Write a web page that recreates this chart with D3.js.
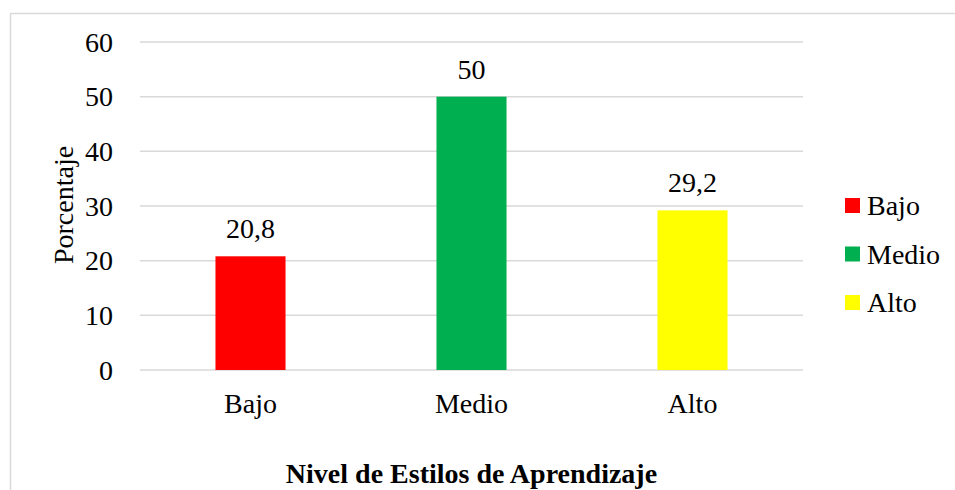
<!DOCTYPE html>
<html lang="es">
<head>
  <meta charset="UTF-8">
  <title>Nivel de Estilos de Aprendizaje</title>
  <script src="https://d3js.org/d3.v7.min.js"></script>
</head>
<body style="margin:0;background:#fff">
<script>
  // data
  const categories = ['Bajo', 'Medio', 'Alto'];
  const values = [20.8, 50, 29.2];
  const valueLabels = ['20,8', '50', '29,2'];
  const colors = ['#FF0000', '#00B050', '#FFFF00'];
  const yTicks = [0, 10, 20, 30, 40, 50, 60];

  const width = 955, height = 490;
  const plot = { left: 140, right: 803, top: 42, bottom: 370 };
  const serif = "'Liberation Serif'";
  const fs = '28px';

  const svg = d3.select('body').append('svg')
    .attr('width', width)
    .attr('height', height)
    .style('font-family', serif);

  // chart frame
  svg.append('rect')
    .attr('x', 10.5).attr('y', 13.5)
    .attr('width', 960).attr('height', 500)
    .attr('fill', 'none')
    .attr('stroke', '#d9d9d9')
    .attr('stroke-width', 1.5);

  const x = d3.scaleBand()
    .domain(categories)
    .range([plot.left, plot.right])
    .paddingInner(0.683)
    .paddingOuter(0.3415);

  const y = d3.scaleLinear()
    .domain([0, 60])
    .range([plot.bottom, plot.top]);

  // gridlines
  svg.append('g')
    .selectAll('line')
    .data(yTicks)
    .enter().append('line')
    .attr('x1', plot.left)
    .attr('x2', plot.right)
    .attr('y1', d => y(d))
    .attr('y2', d => y(d))
    .attr('stroke', '#d9d9d9')
    .attr('stroke-width', 1.5);

  // y axis labels
  const yAxis = svg.append('g')
    .attr('transform', `translate(${plot.left - 27},0)`)
    .call(d3.axisLeft(y).tickValues(yTicks).tickSize(0).tickPadding(0));
  yAxis.select('.domain').remove();
  yAxis.selectAll('text')
    .style('font-family', serif)
    .style('font-size', fs)
    .attr('fill', '#000')
    .attr('dy', '0.33em');

  // bars
  svg.append('g')
    .selectAll('rect')
    .data(values)
    .enter().append('rect')
    .attr('x', (d, i) => x(categories[i]))
    .attr('y', d => y(d))
    .attr('width', x.bandwidth())
    .attr('height', d => y(0) - y(d))
    .attr('fill', (d, i) => colors[i]);

  // value labels
  svg.append('g')
    .selectAll('text')
    .data(values)
    .enter().append('text')
    .attr('x', (d, i) => x(categories[i]) + x.bandwidth() / 2)
    .attr('y', d => y(d) - 18)
    .attr('text-anchor', 'middle')
    .style('font-family', serif)
    .style('font-size', fs)
    .text((d, i) => valueLabels[i]);

  // x axis labels
  const xAxis = svg.append('g')
    .attr('transform', `translate(0,${plot.bottom})`)
    .call(d3.axisBottom(x).tickSize(0).tickPadding(0));
  xAxis.select('.domain').remove();
  xAxis.selectAll('text')
    .attr('dy', null)
    .attr('y', 43)
    .attr('fill', '#000')
    .style('font-family', serif)
    .style('font-size', fs);

  // axis titles
  svg.append('text')
    .attr('x', (plot.left + plot.right) / 2)
    .attr('y', 483)
    .attr('text-anchor', 'middle')
    .style('font-family', serif)
    .style('font-size', fs)
    .style('font-weight', 'bold')
    .text('Nivel de Estilos de Aprendizaje');

  svg.append('text')
    .attr('transform', `translate(73,205) rotate(-90)`)
    .attr('text-anchor', 'middle')
    .style('font-family', serif)
    .style('font-size', fs)
    .text('Porcentaje');

  // legend
  const legend = svg.append('g')
    .selectAll('g')
    .data(categories)
    .enter().append('g')
    .attr('transform', (d, i) => `translate(845,${198 + i * 48.5})`);

  legend.append('rect')
    .attr('width', 15)
    .attr('height', 15)
    .attr('fill', (d, i) => colors[i]);

  legend.append('text')
    .attr('x', 22)
    .attr('y', 17)
    .style('font-family', serif)
    .style('font-size', fs)
    .text(d => d);
</script>
</body>
</html>
